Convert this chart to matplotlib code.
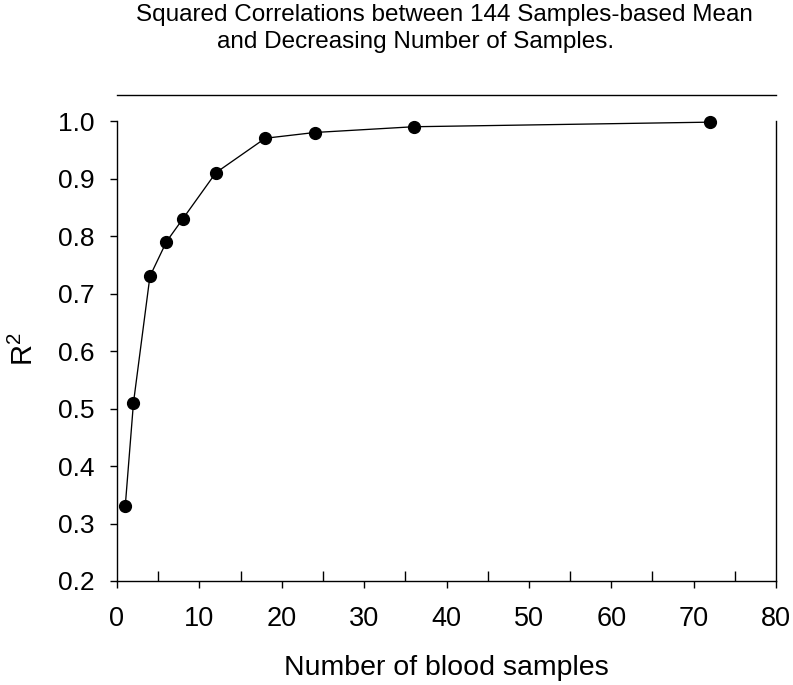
import matplotlib
matplotlib.use("Agg")
import matplotlib.pyplot as plt
from matplotlib.ticker import MultipleLocator

plt.rcParams['font.family'] = ['Liberation Sans', 'DejaVu Sans']
plt.rcParams['mathtext.fontset'] = 'custom'
plt.rcParams['mathtext.rm'] = 'Liberation Sans'
plt.rcParams['mathtext.it'] = 'Liberation Sans'

n_samples = [1, 2, 4, 6, 8, 12, 18, 24, 36, 72]
r_squared = [0.33, 0.51, 0.73, 0.79, 0.83, 0.91, 0.97, 0.98, 0.99, 0.998]
y_ticks = [0.2, 0.3, 0.4, 0.5, 0.6, 0.7, 0.8, 0.9, 1.0]
title_line1 = "Squared Correlations between 144 Samples-based Mean"
title_line2 = "and Decreasing Number of Samples."
x_label = "Number of blood samples"
y_label = r"$\mathrm{R}^2$"

W, H = 793, 685
fig = plt.figure(figsize=(W / 100, H / 100), dpi=100)
ax = fig.add_axes([117 / W, 1 - 581 / H, (776 - 117) / W, (581 - 95) / H])

ax.plot(n_samples, r_squared, color='black', linewidth=0.95, marker='o',
        markersize=8.5, markerfacecolor='black', markeredgecolor='black',
        clip_on=False, zorder=3)

ax.set_xlim(0, 80)
ax.set_ylim(0.2, 1.0 + 26 / 575)
ax.xaxis.set_major_locator(MultipleLocator(10))
ax.xaxis.set_minor_locator(MultipleLocator(5))
ax.set_yticks(y_ticks)
ax.set_yticklabels([f"{v:.1f}" for v in y_ticks])

ax.spines['left'].set_bounds(0.2, 1.0)
ax.spines['right'].set_bounds(0.2, 1.0)
for s in ax.spines.values():
    s.set_linewidth(1.0)
    s.set_color('black')

ax.tick_params(axis='y', which='major', direction='out', length=5, width=1.0,
               labelsize=19, pad=11)
ax.tick_params(axis='x', which='major', direction='out', length=5, width=1.0,
               labelsize=19.5, pad=13)
ax.tick_params(axis='x', which='minor', direction='in', length=7, width=1.0)

ax.set_xlabel(x_label, fontsize=20.5)
ax.xaxis.set_label_coords(0.5, -(655 - 581) / 486)
ax.set_ylabel(y_label, fontsize=21)
ax.yaxis.set_label_coords(-(117 - 39) / 659, (581 - 349) / 486)

fig.text(444.5 / W, 1 - 21 / H, title_line1, ha='center', va='baseline', fontsize=17.5)
fig.text(416 / W, 1 - 48 / H, title_line2, ha='center', va='baseline', fontsize=17.5)

fig.savefig("out.png", dpi=100)
